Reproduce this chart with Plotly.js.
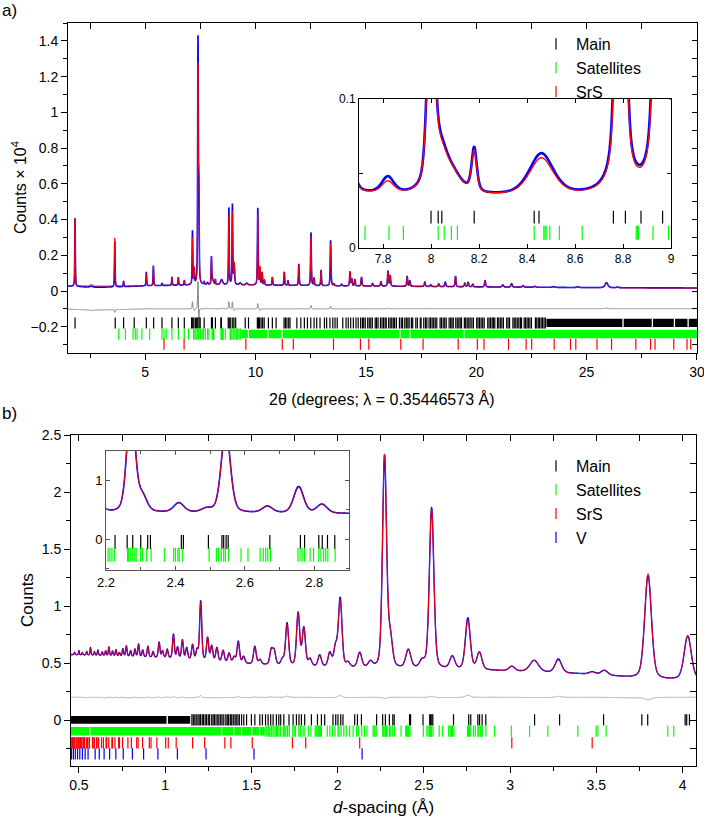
<!DOCTYPE html>
<html>
<head>
<meta charset="utf-8">
<script src="https://cdn.plot.ly/plotly-3.0.1.min.js"></script>
<style>
  html, body { margin: 0; padding: 0; background: #fff; }
  #chart { width: 704px; height: 818px; }
</style>
</head>
<body>
<div id="chart"></div>
<script>
// ===== Panel a: synchrotron pattern vs 2θ (degrees), counts × 10^4 =====
// background knots (2θ, level)
const aBgX    = [1.5, 2.5, 3.5, 5, 6.5, 7.5, 8.5, 10, 12, 14, 17, 20, 24, 27, 30];
const aBgCalc = [0.029, 0.028, 0.027, 0.029, 0.032, 0.034, 0.034, 0.033, 0.031, 0.028, 0.025, 0.022, 0.019, 0.017, 0.016];
const aBgObs  = [0.028, 0.021, 0.022, 0.029, 0.032, 0.034, 0.034, 0.033, 0.031, 0.028, 0.026, 0.023, 0.020, 0.018, 0.017];

// resolved peaks: position, net calculated height, net observed height, FWHM
const aPeakPos = [
  1.82, 2.55, 3.62, 4.02, 5.05, 5.37, 5.76, 6.21, 6.50, 6.77,
  7.14, 7.22, 7.39, 7.43, 7.67, 7.82, 8.00, 8.04, 8.09, 8.18,
  8.46, 8.79, 8.95, 9.03, 9.30, 9.60, 10.10, 10.20, 10.30, 10.40,
  10.76, 11.30, 11.47, 11.96, 12.51, 12.65, 12.97, 13.40, 13.55, 13.90,
  14.28, 14.36, 14.50, 14.80, 15.30, 15.68, 16.00, 16.10, 16.87, 16.99,
  17.67, 17.94, 18.30, 18.60, 19.06, 19.48, 19.63, 19.84, 20.40, 21.20,
  21.60, 22.12, 22.65, 23.50, 24.60, 25.90, 26.40];
const aPeakCalc = [
  0.38, 0.008, 0.27, 0.03, 0.07, 0.11, 0.012, 0.045, 0.045, 0.025,
  0.26, 0.09, 1.20, 0.55, 0.015, 0.008, 0.147, 0.022, 0.012, 0.028,
  0.025, 0.39, 0.41, 0.12, 0.01, 0.01, 0.40, 0.10, 0.07, 0.025,
  0.045, 0.075, 0.025, 0.115, 0.275, 0.04, 0.085, 0.24, 0.01, 0.01,
  0.08, 0.04, 0.035, 0.05, 0.015, 0.025, 0.08, 0.06, 0.055, 0.03,
  0.025, 0.01, 0.015, 0.025, 0.06, 0.02, 0.025, 0.015, 0.035, 0.012,
  0.02, 0.008, 0.005, 0.004, 0.004, 0.025, 0.004];
const aPeakObs = [
  0.38, 0.006, 0.255, 0.03, 0.075, 0.11, 0.012, 0.045, 0.045, 0.025,
  0.30, 0.08, 1.36, 0.48, 0.015, 0.011, 0.15, 0.024, 0.012, 0.03,
  0.028, 0.43, 0.45, 0.11, 0.01, 0.01, 0.43, 0.09, 0.07, 0.025,
  0.045, 0.075, 0.025, 0.12, 0.295, 0.04, 0.085, 0.255, 0.01, 0.01,
  0.08, 0.04, 0.035, 0.05, 0.015, 0.025, 0.085, 0.06, 0.055, 0.03,
  0.025, 0.01, 0.015, 0.025, 0.06, 0.02, 0.025, 0.015, 0.035, 0.012,
  0.02, 0.008, 0.005, 0.004, 0.004, 0.028, 0.004];
const aPeakFwhm = [
  0.030, 0.15, 0.032, 0.035, 0.035, 0.035, 0.04, 0.035, 0.035, 0.035,
  0.035, 0.035, 0.035, 0.035, 0.04, 0.06, 0.034, 0.065, 0.09, 0.025,
  0.12, 0.035, 0.035, 0.05, 0.10, 0.10, 0.038, 0.04, 0.04, 0.04,
  0.04, 0.04, 0.04, 0.04, 0.04, 0.04, 0.04, 0.042, 0.05, 0.06,
  0.045, 0.045, 0.05, 0.05, 0.06, 0.06, 0.05, 0.05, 0.05, 0.05,
  0.06, 0.06, 0.06, 0.06, 0.05, 0.06, 0.06, 0.06, 0.06, 0.08,
  0.07, 0.08, 0.10, 0.12, 0.12, 0.15, 0.10];

// reflection markers, 2θ
const aMainTicks = [
  1.82, 3.64, 4.02, 4.50, 5.05, 5.38, 5.76, 6.21, 6.50, 6.77,
  7.10, 7.15, 7.20, 7.27, 7.33, 7.38, 7.44, 7.49, 7.67, 8.00,
  8.03, 8.045, 8.18, 8.43, 8.45, 8.76, 8.81, 8.875, 8.965, 9.02,
  9.10, 9.53, 9.68, 10.08, 10.13, 10.18, 10.25, 10.32, 10.39, 10.58,
  10.76, 10.93, 11.29, 11.35, 11.42, 11.50, 11.56, 11.87, 12.05, 12.21,
  12.35, 12.50, 12.65, 12.77, 12.92, 13.12, 13.22, 13.37, 13.50, 13.60,
  13.70, 13.95, 14.10, 14.20, 14.31, 14.43, 14.55, 14.65,
  14.76, 14.84, 14.90, 14.97, 15.08, 15.15, 15.22, 15.29, 15.42, 15.48,
  15.55, 15.66, 15.73, 15.80, 15.87, 15.92, 16.03, 16.10, 16.17, 16.24,
  16.30, 16.38, 16.52, 16.60, 16.66, 16.76, 16.83, 16.90, 16.96, 17.06,
  17.12, 17.26, 17.33, 17.46, 17.50, 17.62, 17.70, 17.76, 17.86, 17.93,
  18.00, 18.07, 18.14, 18.21, 18.36, 18.42, 18.50, 18.57, 18.64, 18.77,
  18.84, 18.90, 18.96, 19.07, 19.14, 19.21, 19.27, 19.33, 19.46, 19.52,
  19.59, 19.66, 19.72, 19.80, 19.87, 20.02, 20.08, 20.15, 20.22, 20.29,
  20.36, 20.52, 20.58, 20.65, 20.72, 20.78, 20.84, 20.96, 21.02, 21.09,
  21.16, 21.23, 21.38, 21.44, 21.51, 21.66, 21.72, 21.79, 21.86, 21.93,
  22.00, 22.05, 22.17, 22.23, 22.30, 22.36, 22.43, 22.50, 22.68, 22.74,
  22.81, 22.87, 22.94, 23.00, 23.07, 23.13];
// stretches where Main reflections merge into a solid band
const aMainBandStart = [23.18, 26.68, 28.01, 29.01, 29.63];
const aMainBandEnd   = [26.62, 27.95, 28.95, 29.57, 30.00];

const aSatTicks = [
  3.80, 4.10, 4.45, 4.55, 4.63, 4.85, 5.20, 5.76, 5.85, 5.95,
  6.21, 6.50, 6.77, 6.96, 7.19, 7.25, 7.30, 7.36, 7.42, 7.50,
  7.58, 7.64, 7.725, 7.825, 7.885, 8.03, 8.055, 8.085, 8.11, 8.43,
  8.47, 8.475, 8.48, 8.495, 8.535, 8.63, 8.855, 8.86, 8.865, 8.925,
  8.99, 9.06, 9.13, 9.19, 9.25, 9.31];
const aSatBandStart = [9.36, 9.70, 10.59, 11.23, 16.57, 17.02, 19.47];
const aSatBandEnd   = [9.65, 10.53, 11.17, 16.52, 16.97, 19.42, 30.00];

const aSrsTicks = [
  5.85, 6.76, 9.56, 11.21, 11.71, 13.53, 14.75, 15.13, 16.58, 17.59,
  19.18, 20.05, 20.35, 21.46, 22.26, 22.51, 23.53, 24.27, 24.51, 25.47,
  26.13, 27.23, 27.90, 28.10, 28.95, 29.55, 29.72];

// ===== Panel b: pattern vs d-spacing (Å) =====
const bBgX    = [0.454, 0.6, 0.8, 1.0, 1.2, 1.45, 1.7, 2.0, 2.3, 2.6, 2.9, 3.2, 3.5, 3.7, 3.9, 4.08];
const bBgCalc = [0.575, 0.57, 0.56, 0.545, 0.525, 0.495, 0.475, 0.46, 0.45, 0.445, 0.435, 0.42, 0.40, 0.375, 0.355, 0.355];
const bBgObs  = [0.577, 0.57, 0.558, 0.545, 0.523, 0.495, 0.477, 0.46, 0.452, 0.445, 0.437, 0.42, 0.402, 0.373, 0.357, 0.357];

const bPeakPos = [
  0.475, 0.500, 0.520, 0.545, 0.567, 0.590, 0.610, 0.635, 0.655, 0.674,
  0.695, 0.715, 0.735, 0.755, 0.775, 0.800, 0.825, 0.846, 0.870, 0.900,
  0.930, 0.965, 0.985, 1.012, 1.048, 1.072, 1.100, 1.125, 1.159, 1.185,
  1.206, 1.246, 1.270, 1.300, 1.336, 1.371, 1.400, 1.424, 1.455, 1.520,
  1.550, 1.615, 1.632, 1.680, 1.707, 1.771, 1.804, 1.840, 1.896, 1.955,
  1.988, 2.015, 2.060, 2.128, 2.190, 2.272, 2.305, 2.410, 2.490, 2.545,
  2.665, 2.755, 2.822, 3.010, 3.140, 3.280, 3.476, 3.547, 3.800, 4.030];
const bPeakCalc = [
  0.02, 0.03, 0.02, 0.035, 0.06, 0.03, 0.04, 0.03, 0.045, 0.07,
  0.04, 0.05, 0.03, 0.06, 0.09, 0.05, 0.06, 0.11, 0.06, 0.09,
  0.05, 0.13, 0.06, 0.07, 0.20, 0.10, 0.16, 0.10, 0.13, 0.08,
  0.50, 0.20, 0.13, 0.12, 0.10, 0.08, 0.05, 0.18, 0.06, 0.15,
  0.04, 0.12, 0.12, 0.05, 0.36, 0.46, 0.33, 0.06, 0.10, 0.12,
  0.17, 0.58, 0.04, 0.13, 0.05, 1.86, 0.25, 0.16, 0.06, 1.40,
  0.11, 0.43, 0.15, 0.04, 0.10, 0.11, 0.02, 0.04, 0.92, 0.38];
const bPeakObs = [
  0.02, 0.035, 0.02, 0.03, 0.065, 0.03, 0.045, 0.03, 0.04, 0.075,
  0.04, 0.055, 0.03, 0.065, 0.09, 0.05, 0.065, 0.11, 0.06, 0.095,
  0.05, 0.135, 0.06, 0.075, 0.21, 0.10, 0.165, 0.10, 0.13, 0.085,
  0.52, 0.20, 0.13, 0.12, 0.10, 0.08, 0.05, 0.19, 0.06, 0.155,
  0.04, 0.125, 0.12, 0.05, 0.37, 0.46, 0.33, 0.06, 0.10, 0.12,
  0.17, 0.60, 0.04, 0.13, 0.05, 1.85, 0.25, 0.16, 0.06, 1.41,
  0.11, 0.45, 0.15, 0.04, 0.10, 0.12, 0.02, 0.04, 0.90, 0.38];
const bPeakFwhm = [
  0.006, 0.006, 0.0065, 0.0068, 0.007, 0.0072, 0.0075, 0.0078, 0.008, 0.0082,
  0.0085, 0.0087, 0.009, 0.0092, 0.0095, 0.0098, 0.010, 0.0103, 0.0106, 0.011,
  0.0113, 0.0118, 0.012, 0.0123, 0.0128, 0.0131, 0.0134, 0.0137, 0.0141, 0.0145,
  0.0147, 0.0152, 0.0155, 0.0159, 0.0163, 0.0167, 0.017, 0.0174, 0.0178, 0.0185,
  0.019, 0.0197, 0.0199, 0.0205, 0.0208, 0.0216, 0.022, 0.0225, 0.0231, 0.024,
  0.0243, 0.0246, 0.025, 0.028, 0.030, 0.0277, 0.030, 0.035, 0.035, 0.031,
  0.035, 0.0336, 0.035, 0.040, 0.060, 0.045, 0.040, 0.045, 0.0464, 0.049];

const bMainBandStart = [0.454, 1.016];
const bMainBandEnd   = [1.008, 1.145];
const bMainTicks = [
  1.155, 1.163, 1.172, 1.180, 1.190, 1.197, 1.205, 1.215, 1.222, 1.232,
  1.240, 1.250, 1.258, 1.270, 1.278, 1.286, 1.295, 1.305, 1.312, 1.322,
  1.330, 1.340, 1.352, 1.360, 1.368, 1.378, 1.386, 1.395, 1.405, 1.412,
  1.422, 1.430, 1.443, 1.456, 1.472, 1.500, 1.520, 1.549, 1.564, 1.582,
  1.597, 1.612, 1.626, 1.645, 1.659, 1.670, 1.688, 1.718, 1.742, 1.761,
  1.776, 1.790, 1.809, 1.848, 1.883, 1.906, 1.925, 1.973, 1.989, 2.002,
  2.018, 2.031, 2.099, 2.115, 2.138, 2.226, 2.261, 2.277, 2.300, 2.320,
  2.328, 2.417, 2.423, 2.495, 2.534, 2.539, 2.546, 2.552, 2.672, 2.760,
  2.772, 2.813, 2.823, 2.838, 2.859, 3.142, 3.287, 3.542, 3.764, 3.798,
  4.015, 4.024, 4.040];

const bSatBandStart = [0.454, 0.567, 1.331, 1.401, 1.446, 1.506, 1.551];
const bSatBandEnd   = [0.561, 1.325, 1.395, 1.440, 1.500, 1.545, 1.578];
const bSatTicks = [
  1.585, 1.590, 1.600, 1.607, 1.615, 1.620, 1.630, 1.638, 1.645, 1.652,
  1.660, 1.668, 1.685, 1.693, 1.700, 1.710, 1.720, 1.740, 1.748, 1.755,
  1.775, 1.785, 1.800, 1.810, 1.830, 1.845, 1.870, 1.876, 1.882, 1.888,
  1.895, 1.900, 1.906, 1.940, 1.955, 1.970, 1.985, 2.002, 2.008, 2.020,
  2.036, 2.050, 2.070, 2.090, 2.110, 2.120, 2.140, 2.155, 2.170, 2.206,
  2.211, 2.217, 2.224, 2.262, 2.265, 2.270, 2.277, 2.283, 2.287, 2.300,
  2.305, 2.317, 2.330, 2.368, 2.395, 2.400, 2.407, 2.411, 2.420, 2.497,
  2.518, 2.524, 2.532, 2.539, 2.544, 2.553, 2.589, 2.609, 2.644, 2.653,
  2.660, 2.666, 2.674, 2.753, 2.759, 2.765, 2.772, 2.788, 2.798, 2.813,
  2.819, 2.827, 2.833, 2.839, 2.860, 2.910, 3.007, 3.113, 3.219, 3.393,
  3.499, 3.509, 3.557, 3.914, 3.949];

const bSrsTicks = [
  3.476, 3.010, 2.128, 1.815, 1.738, 1.505, 1.381, 1.346, 1.229, 1.159,
  1.064, 1.018, 1.003, 0.952, 0.918, 0.908, 0.869, 0.843, 0.835, 0.804,
  0.784, 0.753, 0.735, 0.730, 0.709, 0.695, 0.691, 0.673, 0.661, 0.657,
  0.642, 0.631, 0.614, 0.605, 0.602, 0.590, 0.582, 0.579, 0.561, 0.559,
  0.550, 0.543, 0.532, 0.526, 0.524, 0.516, 0.511, 0.509, 0.502, 0.497,
  0.495, 0.488, 0.484, 0.476, 0.472, 0.470, 0.464, 0.460, 0.459];
const bVTicks = [
  2.142, 1.515, 1.237, 1.071, 0.958, 0.875, 0.810, 0.757, 0.714, 0.678,
  0.646, 0.618, 0.594, 0.553, 0.536, 0.520, 0.505, 0.492, 0.479, 0.468, 0.457];

// ===== profile construction =====
function interp(xs, ys, x) {
  if (x <= xs[0]) return ys[0];
  for (let i = 1; i < xs.length; i++) {
    if (x <= xs[i]) {
      const t = (x - xs[i - 1]) / (xs[i] - xs[i - 1]);
      return ys[i - 1] + t * (ys[i] - ys[i - 1]);
    }
  }
  return ys[ys.length - 1];
}
function pseudoVoigt(x, x0, fwhm, eta) {
  const u = (x - x0) / fwhm, q = 4 * u * u;
  return eta / (1 + q) + (1 - eta) * Math.exp(-Math.LN2 * q);
}
function sampleGrid(lo, hi, step) {
  const g = [];
  const n = Math.round((hi - lo) / step);
  for (let i = 0; i <= n; i++) g.push(lo + i * step);
  return g;
}
function pattern(grid, bgX, bgY, pos, amp, fwhm, eta) {
  return grid.map(x => {
    let y = interp(bgX, bgY, x);
    for (let i = 0; i < pos.length; i++) {
      if (Math.abs(x - pos[i]) < 60 * fwhm[i]) y += amp[i] * pseudoVoigt(x, pos[i], fwhm[i], eta);
    }
    return y;
  });
}

const aGrid = sampleGrid(1.5, 30, 0.004);
const aCalc = pattern(aGrid, aBgX, aBgCalc, aPeakPos, aPeakCalc, aPeakFwhm, 0.5);
const aObs  = pattern(aGrid, aBgX, aBgObs,  aPeakPos, aPeakObs,  aPeakFwhm, 0.5);
const aDiff = aObs.map((v, i) => v - aCalc[i] - 0.1);

const bGrid = sampleGrid(0.454, 4.08, 0.0005);
const bCalc = pattern(bGrid, bBgX, bBgCalc, bPeakPos, bPeakCalc, bPeakFwhm, 0.3);
const bObs  = pattern(bGrid, bBgX, bBgObs,  bPeakPos, bPeakObs,  bPeakFwhm, 0.3);
const bDiff = bObs.map((v, i) => v - bCalc[i] + 0.2);

// ===== traces =====
const BLUE = '#0000ff', RED = '#ff0000', GREEN = '#00ff00', BLACK = '#000000';

function line(x, y, color, width, xa, ya) {
  return { type: 'scatter', mode: 'lines', x, y, xaxis: xa, yaxis: ya,
    line: { color, width, simplify: false }, showlegend: false, hoverinfo: 'skip' };
}
function ticksTrace(xs, level, color, len, xa, ya, name, legend, show) {
  return { type: 'scatter', mode: 'markers', x: xs, y: xs.map(() => level),
    xaxis: xa, yaxis: ya, name, legend, showlegend: show, hoverinfo: 'skip',
    marker: { symbol: 'line-ns-open', size: len, color, line: { color, width: 1.2 } } };
}
function bandTrace(starts, ends, lo, hi, color, xa, ya) {
  const x = [], y = [];
  starts.forEach((s, i) => {
    x.push(s, ends[i], ends[i], s, s, null);
    y.push(lo, lo, hi, hi, lo, null);
  });
  return { type: 'scatter', mode: 'lines', x, y, xaxis: xa, yaxis: ya, fill: 'toself',
    fillcolor: color, line: { width: 0, color }, showlegend: false, hoverinfo: 'skip' };
}
function dummy(xa, ya) {
  return { type: 'scatter', mode: 'none', x: [null], y: [null], xaxis: xa, yaxis: ya,
    showlegend: false, hoverinfo: 'skip' };
}

const traces = [
  // panel a
  line(aGrid, aDiff, '#808080', 1, 'x', 'y'),
  line(aGrid, aObs, BLUE, 1.6, 'x', 'y'),
  line(aGrid, aCalc, RED, 1, 'x', 'y'),
  bandTrace(aMainBandStart, aMainBandEnd, -0.202, -0.156, BLACK, 'x', 'y'),
  bandTrace(aSatBandStart, aSatBandEnd, -0.264, -0.217, GREEN, 'x', 'y'),
  ticksTrace(aMainTicks, -0.179, BLACK, 8, 'x', 'y', 'Main', 'legend', true),
  ticksTrace(aSatTicks, -0.241, GREEN, 8, 'x', 'y', 'Satellites', 'legend', true),
  ticksTrace(aSrsTicks, -0.298, RED, 8, 'x', 'y', 'SrS', 'legend', true),
  dummy('x5', 'y5'),
  // inset of panel a
  line(aGrid, aObs, BLUE, 2.6, 'x2', 'y2'),
  line(aGrid, aCalc, RED, 1.3, 'x2', 'y2'),
  ticksTrace(aMainTicks, 0.0207, BLACK, 9, 'x2', 'y2', 'Main', 'legend', false),
  ticksTrace(aSatTicks, 0.0103, GREEN, 10, 'x2', 'y2', 'Satellites', 'legend', false),
  // panel b
  line(bGrid, bDiff, '#a0a0a0', 0.9, 'x3', 'y3'),
  line(bGrid, bObs, BLUE, 1.4, 'x3', 'y3'),
  line(bGrid, bCalc, RED, 1, 'x3', 'y3'),
  bandTrace(bMainBandStart, bMainBandEnd, -0.029, 0.038, BLACK, 'x3', 'y3'),
  bandTrace(bSatBandStart, bSatBandEnd, -0.132, -0.059, GREEN, 'x3', 'y3'),
  ticksTrace(bMainTicks, 0.0045, BLACK, 8, 'x3', 'y3', 'Main', 'legend2', true),
  ticksTrace(bSatTicks, -0.095, GREEN, 8, 'x3', 'y3', 'Satellites', 'legend2', true),
  ticksTrace(bSrsTicks, -0.197, RED, 8, 'x3', 'y3', 'SrS', 'legend2', true),
  ticksTrace(bVTicks, -0.294, BLUE, 8, 'x3', 'y3', 'V', 'legend2', true),
  dummy('x6', 'y6'),
  // inset of panel b
  line(bGrid, bObs, BLUE, 1.6, 'x4', 'y4'),
  line(bGrid, bCalc, RED, 1, 'x4', 'y4'),
  ticksTrace(bMainTicks, -0.045, BLACK, 10, 'x4', 'y4', 'Main', 'legend2', false),
  ticksTrace(bSatTicks, -0.26, GREEN, 10, 'x4', 'y4', 'Satellites', 'legend2', false)
];

// ===== layout =====
const FONT = 'Liberation Sans, Arial, sans-serif';
const W = 704, H = 818;
const px = v => v / W;
const py = v => 1 - v / H;

const base = {
  showgrid: false, zeroline: false, showline: true, linecolor: BLACK, linewidth: 1,
  ticks: 'outside', ticklen: 6, tickwidth: 1, tickcolor: BLACK, ticklabeloverflow: 'allow',
  tickfont: { family: FONT, size: 14, color: BLACK }, mirror: true
};
const overlay = {
  showgrid: false, zeroline: false, showline: false, showticklabels: false,
  ticks: 'inside', ticklen: 6, tickwidth: 1, tickcolor: BLACK
};
const inset = {
  showgrid: false, zeroline: false, showline: true, linewidth: 1,
  ticks: 'inside', ticklen: 4, tickwidth: 1, mirror: 'allticks'
};

const A_X = [1.5, 30.002];
const A_Y = [-0.347, 1.5];
const B_X = [0.454, 4.078];
const B_Y = [-0.40, 2.5];

const layout = {
  width: W, height: H,
  margin: { l: 0, r: 0, t: 0, b: 0 },
  paper_bgcolor: '#fff', plot_bgcolor: 'rgba(0,0,0,0)',
  font: { family: FONT, color: BLACK },
  showlegend: true,
  // panel a
  xaxis: Object.assign({}, base, {
    domain: [px(68), px(697)], anchor: 'y', range: A_X, tick0: 0, dtick: 5,
    minor: { dtick: 2.5, ticks: 'outside', ticklen: 4, tickcolor: BLACK, showgrid: false }
  }),
  yaxis: Object.assign({}, base, {
    domain: [py(353), py(23)], anchor: 'x', range: A_Y, tick0: 0, dtick: 0.2,
    minor: { dtick: 0.1, ticks: 'outside', ticklen: 4, tickcolor: BLACK, showgrid: false }
  }),
  xaxis5: Object.assign({}, overlay, {
    overlaying: 'x', side: 'top', anchor: 'y', range: A_X, tick0: 0, dtick: 2.5
  }),
  yaxis5: Object.assign({}, overlay, {
    overlaying: 'y', side: 'right', anchor: 'x', range: A_Y, tick0: 0, dtick: 0.1, ticklen: 5
  }),
  xaxis2: Object.assign({}, inset, {
    domain: [px(359), px(671)], anchor: 'y2', range: [7.7, 9], tick0: 0, dtick: 0.2,
    linecolor: BLACK, tickcolor: BLACK, tickfont: { family: FONT, size: 12, color: BLACK }
  }),
  yaxis2: Object.assign({}, inset, {
    domain: [py(248), py(99)], anchor: 'x2', range: [0, 0.1], tick0: 0, dtick: 0.1,
    linecolor: BLACK, tickcolor: BLACK, tickfont: { family: FONT, size: 12, color: BLACK },
    minor: { dtick: 0.05, ticks: 'inside', ticklen: 4, tickcolor: BLACK, showgrid: false }
  }),
  // panel b
  xaxis3: Object.assign({}, base, {
    domain: [px(71), px(696)], anchor: 'y3', range: B_X, tick0: 0, dtick: 0.5,
    minor: { dtick: 0.25, ticks: 'outside', ticklen: 4, tickcolor: BLACK, showgrid: false }
  }),
  yaxis3: Object.assign({}, base, {
    domain: [py(766), py(435)], anchor: 'x3', range: B_Y, tick0: 0, dtick: 0.5,
    minor: { dtick: 0.25, ticks: 'outside', ticklen: 4, tickcolor: BLACK, showgrid: false }
  }),
  xaxis6: Object.assign({}, overlay, {
    overlaying: 'x3', side: 'top', anchor: 'y3', range: B_X, tick0: 0, dtick: 0.25
  }),
  yaxis6: Object.assign({}, overlay, {
    overlaying: 'y3', side: 'right', anchor: 'x3', range: B_Y, tick0: 0, dtick: 0.25
  }),
  xaxis4: Object.assign({}, inset, {
    domain: [px(106), px(349)], anchor: 'y4', range: [2.2, 2.9], tick0: 0, dtick: 0.2,
    linecolor: '#555', tickcolor: '#555', tickfont: { family: FONT, size: 13, color: BLACK },
    minor: { dtick: 0.1, ticks: 'inside', ticklen: 3, tickcolor: '#555', showgrid: false }
  }),
  yaxis4: Object.assign({}, inset, {
    domain: [py(570), py(451)], anchor: 'x4', range: [-0.52, 1.5], tick0: 0, dtick: 1,
    linecolor: '#555', tickcolor: '#555', tickfont: { family: FONT, size: 13, color: BLACK },
    minor: { dtick: 0.5, ticks: 'inside', ticklen: 3, tickcolor: '#555', showgrid: false }
  }),
  legend: {
    x: px(536), y: py(27), xanchor: 'left', yanchor: 'top',
    bgcolor: 'rgba(0,0,0,0)', borderwidth: 0, font: { family: FONT, size: 16, color: BLACK },
    itemwidth: 30, tracegroupgap: 0
  },
  legend2: {
    x: px(536), y: py(449), xanchor: 'left', yanchor: 'top',
    bgcolor: 'rgba(0,0,0,0)', borderwidth: 0, font: { family: FONT, size: 16, color: BLACK },
    itemwidth: 30, tracegroupgap: 0
  },
  annotations: [
    { text: 'a)', xref: 'paper', yref: 'paper', x: px(0), y: py(10), xanchor: 'left', yanchor: 'middle',
      showarrow: false, font: { family: FONT, size: 17, color: BLACK } },
    { text: 'b)', xref: 'paper', yref: 'paper', x: px(0), y: py(413), xanchor: 'left', yanchor: 'middle',
      showarrow: false, font: { family: FONT, size: 17, color: BLACK } },
    { text: 'Counts × 10<sup>4</sup>', xref: 'paper', yref: 'paper', x: px(19), y: py(188),
      xanchor: 'center', yanchor: 'middle', textangle: -90, showarrow: false,
      font: { family: FONT, size: 16, color: BLACK } },
    { text: '2θ (degrees; λ = 0.35446573 Å)', xref: 'paper', yref: 'paper', x: px(382), y: py(399),
      xanchor: 'center', yanchor: 'middle', showarrow: false,
      font: { family: FONT, size: 16, color: BLACK } },
    { text: 'Counts', xref: 'paper', yref: 'paper', x: px(27), y: py(600),
      xanchor: 'center', yanchor: 'middle', textangle: -90, showarrow: false,
      font: { family: FONT, size: 17, color: BLACK } },
    { text: '<i>d</i>-spacing (Å)', xref: 'paper', yref: 'paper', x: px(383), y: py(807),
      xanchor: 'center', yanchor: 'middle', showarrow: false,
      font: { family: FONT, size: 17, color: BLACK } }
  ]
};

Plotly.newPlot('chart', traces, layout, { staticPlot: true, displayModeBar: false });
</script>
</body>
</html>
